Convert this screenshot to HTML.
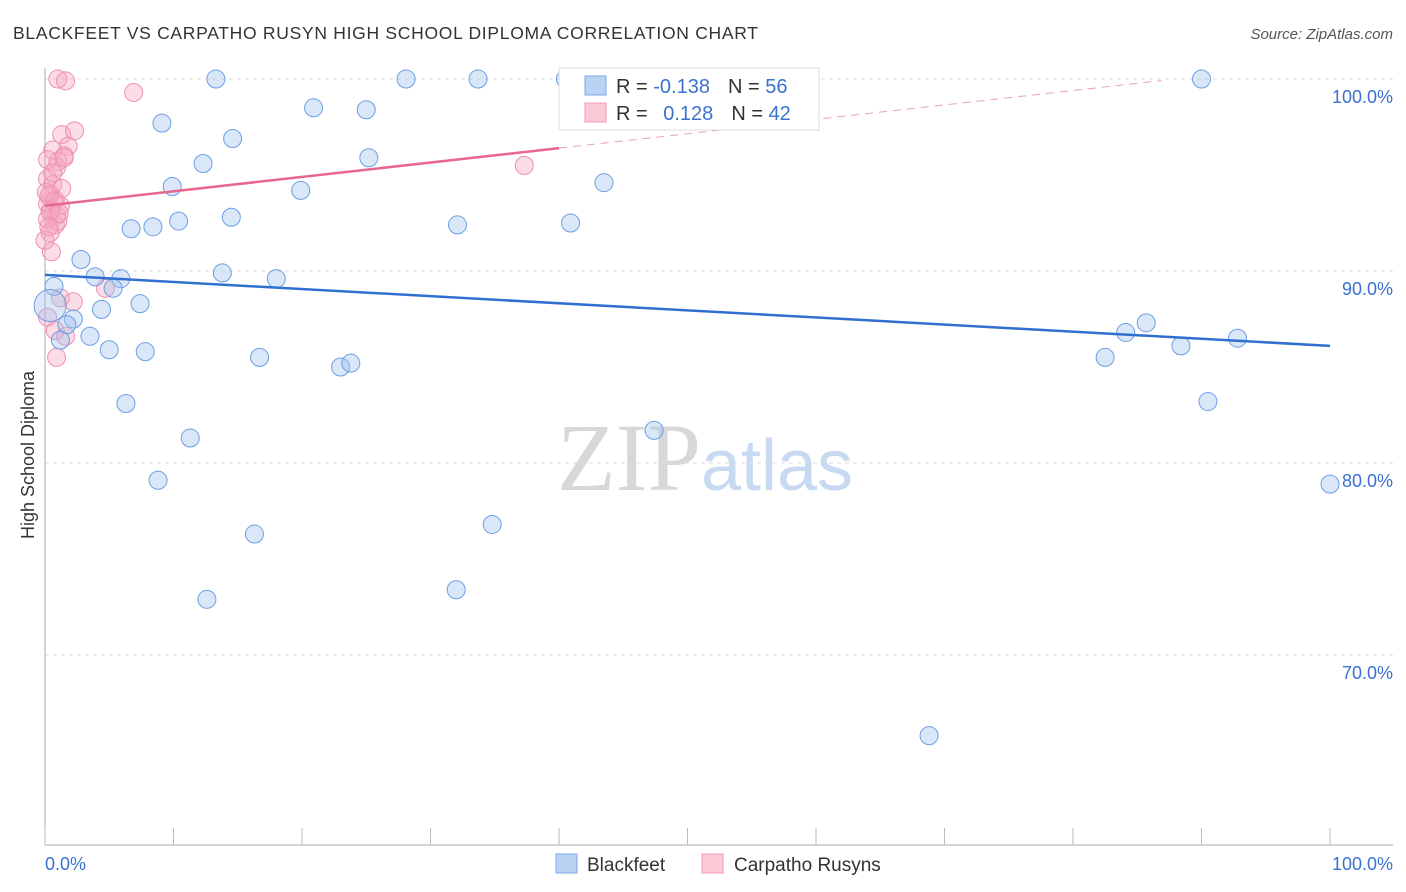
<!DOCTYPE html>
<html><head><meta charset="utf-8"><style>
body{margin:0;background:#fff;font-family:"Liberation Sans",sans-serif}
svg{display:block}
</style></head><body>
<svg id="chart" width="1406" height="892" xmlns="http://www.w3.org/2000/svg" font-family="Liberation Sans, sans-serif">
<text x="13" y="39" font-size="17.5" fill="#333" textLength="745">BLACKFEET VS CARPATHO RUSYN HIGH SCHOOL DIPLOMA CORRELATION CHART</text>
<text x="1393" y="39" font-size="15" fill="#555" text-anchor="end" font-style="italic">Source: ZipAtlas.com</text>
<text x="705" y="490" font-size="96" text-anchor="middle"><tspan fill="#d8d8d8" font-family="Liberation Serif, serif">ZIP</tspan><tspan fill="#c8daf2" font-size="72">atlas</tspan></text>
<text transform="translate(34,455) rotate(-90)" font-size="18" fill="#333" text-anchor="middle">High School Diploma</text>
<g id="grid"></g><g id="axes"></g><g id="pink"></g><g id="blue"></g><g id="lines"></g>
<g>
<rect x="559" y="68" width="260" height="62" fill="#fff" stroke="#ddd"/>
<rect x="585" y="76" width="21" height="19" fill="#b9d3f5" stroke="#7eaae6"/>
<rect x="585" y="103" width="21" height="19" fill="#fcc9d7" stroke="#f19ab5"/>
<text x="616" y="93" font-size="20" fill="#333">R = <tspan fill="#3a72cf">-0.138</tspan><tspan dx="18" fill="#333">N = </tspan><tspan fill="#3a72cf">56</tspan></text>
<text x="616" y="120" font-size="20" fill="#333">R = <tspan dx="10" fill="#3a72cf">0.128</tspan><tspan dx="18" fill="#333">N = </tspan><tspan fill="#3a72cf">42</tspan></text>
</g>
<g>
<rect x="556" y="854" width="21" height="19" fill="#b9d3f5" stroke="#7eaae6"/>
<text x="587" y="871" font-size="19" fill="#333">Blackfeet</text>
<rect x="702" y="854" width="21" height="19" fill="#fcc9d7" stroke="#f19ab5"/>
<text x="734" y="871" font-size="19" fill="#333">Carpatho Rusyns</text>
</g>
</svg>
<script>
const blueX=[13.3,28.1,33.7,40.5,46.8,90,9.1,20.9,25,14.6,12.3,25.2,9.9,19.9,43.5,6.7,8.4,10.4,14.5,32.1,40.9,2.8,3.9,5.9,13.8,18,0.7,5.3,7.4,4.4,2.2,1.7,1.2,3.5,5,7.8,16.7,23,23.8,6.3,11.3,8.8,16.3,34.8,12.6,32,47.4,68.8,82.5,84.1,85.7,88.4,90.5,92.8,100,0.4];
const blueY=[100,100,100,100,100,100,97.7,98.5,98.4,96.9,95.6,95.9,94.4,94.2,94.6,92.2,92.3,92.6,92.8,92.4,92.5,90.6,89.7,89.6,89.9,89.6,89.2,89.1,88.3,88,87.5,87.2,86.4,86.6,85.9,85.8,85.5,85,85.2,83.1,81.3,79.1,76.3,76.8,72.9,73.4,81.7,65.8,85.5,86.8,87.3,86.1,83.2,86.5,78.9,88.2];
const pinkX=[1,1.6,6.9,1.3,2.3,1.8,0.6,1.5,1,0.9,0.2,0.6,0.4,0.8,0.2,1.2,0.5,0.9,0.2,0.8,0.4,0.5,37.3,1.2,2.2,4.7,0.2,0.8,1.6,0.9,0,1.3,0.2,1.5,0.3,0.7,1.0,0.4,0.1,0.6,1.1,0.3];
const pinkY=[100,99.9,99.3,97.1,97.3,96.5,96.3,96,95.7,95.4,94.8,94.5,94,93.7,93.5,93.4,93.2,92.9,92.7,92.4,92,91,95.5,88.6,88.4,89.1,87.6,86.9,86.6,85.5,91.6,94.3,95.8,95.9,93.9,93.6,92.6,93.1,94.1,95.1,93.0,92.3];
const blueTrend=[89.8,86.1];
const pinkTrend=[93.4,100.9];
const yTicks=[100,90,80,70];
const yTickLabels=["100.0%","90.0%","80.0%","70.0%"];
const xTicks=[0,10,20,30,40,50,60,70,80,90,100];
const NS="http://www.w3.org/2000/svg";
const sx=v=>45+v*12.85, sy=v=>79+(100-v)*19.2;
function mk(tag,attrs,parent){const e=document.createElementNS(NS,tag);for(const k in attrs)e.setAttribute(k,attrs[k]);document.getElementById(parent).appendChild(e);return e;}
yTicks.forEach((t,i)=>{
 const g=mk('line',{x1:45,x2:1393,y1:sy(t),y2:sy(t),stroke:'#ddd','stroke-dasharray':'4,4'},'grid');
 
 
 const l=mk('text',{x:1393,y:sy(t)+24,'font-size':18,fill:'#3a72cf','text-anchor':'end'},'grid');
 l.textContent=yTickLabels[i];
 
 
});
const ax=mk('line',{x1:45,x2:45,y1:68,y2:845,stroke:'#aaa'},'axes');


const bx=mk('line',{x1:45,x2:1393,y1:845,y2:845,stroke:'#aaa'},'axes');


xTicks.forEach(t=>{const tk=mk('line',{x1:sx(t),x2:sx(t),y1:828,y2:845,stroke:'#bbb'},'axes');
 
 });
const x0=mk('text',{x:45,y:870,'font-size':18,fill:'#3a72cf'},'axes');x0.textContent='0.0%';


const x1=mk('text',{x:1393,y:870,'font-size':18,fill:'#3a72cf','text-anchor':'end'},'axes');x1.textContent='100.0%';


pinkX.forEach((x,i)=>{const c=mk('circle',{cx:sx(x),cy:sy(pinkY[i]),r:9,fill:'rgba(246,168,194,0.4)',stroke:'#ef8fae','stroke-width':1},'pink');
 
 });
blueX.forEach((x,i)=>{const c=mk('circle',{cx:sx(x),cy:sy(blueY[i]),r:i==blueX.length-1?16:9,fill:'rgba(160,196,240,0.4)',stroke:'#6d9fe2','stroke-width':1},'blue');
 
 });
const bl=mk('line',{x1:sx(0),y1:sy(blueTrend[0]),x2:sx(100),y2:sy(blueTrend[1]),stroke:'#2f6fd0','stroke-width':2.5},'lines');


const pv=x=>pinkTrend[0]+(pinkTrend[1]-pinkTrend[0])*x/100;
const pl=mk('line',{x1:sx(0),y1:sy(pv(0)),x2:sx(40),y2:sy(pv(40)),stroke:'#e8678f','stroke-width':2.5},'lines');


const pd=mk('line',{x1:sx(40),y1:sy(pv(40)),x2:sx(86.9),y2:sy(Math.min(pv(86.9),100)),stroke:'#e8a0b5','stroke-width':1,'stroke-dasharray':'8,6'},'lines');


</script>
</body></html>
